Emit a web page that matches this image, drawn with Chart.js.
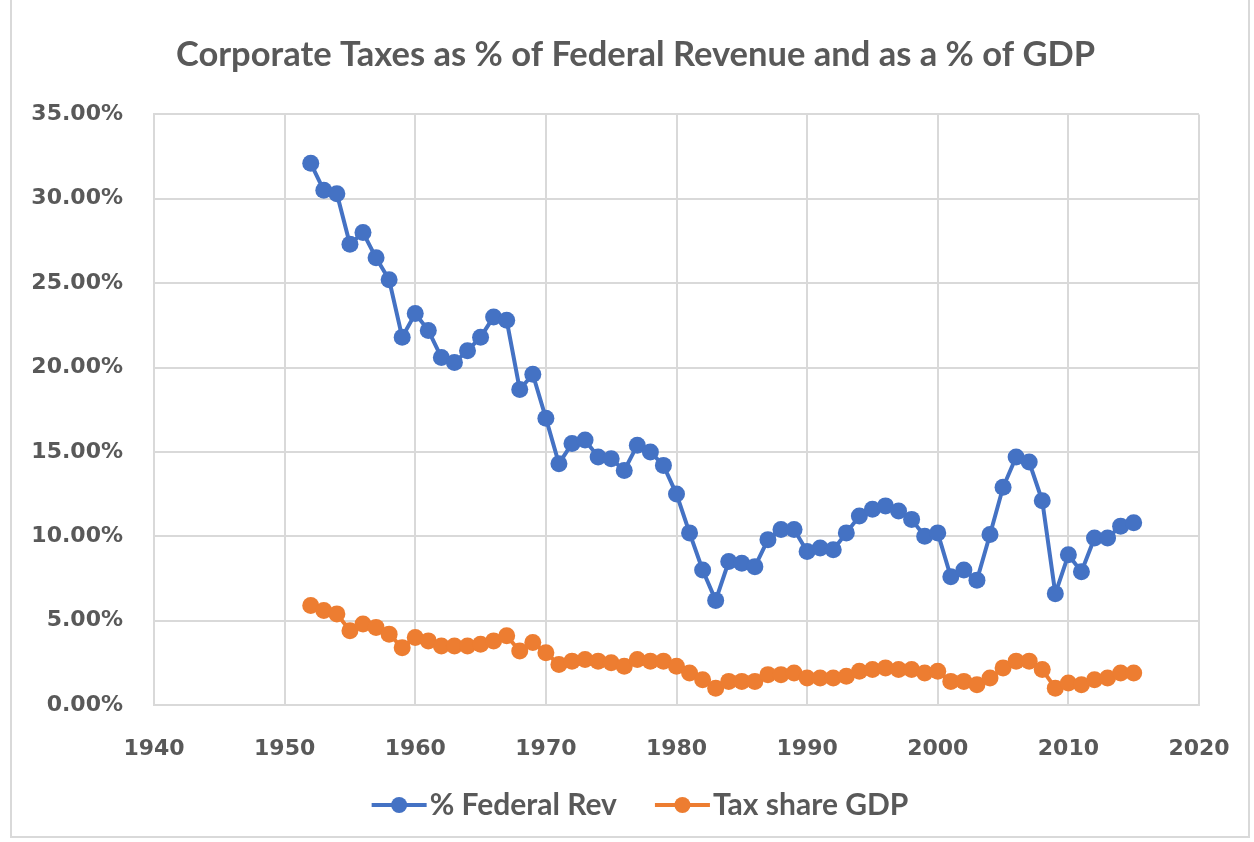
<!DOCTYPE html>
<html>
<head>
<meta charset="utf-8">
<script src="https://cdn.jsdelivr.net/npm/chart.js@4"></script>
<style>
  html, body { margin: 0; padding: 0; background: #fff; }
  #wrap { position: absolute; left: 10px; top: -2px; width: 1240px; height: 840px; border: 2px solid #d9d9d9; box-sizing: border-box; }
</style>
</head>
<body>
<div id="wrap"><canvas id="myChart"></canvas></div>
<script>
// years 1952..2015
let years = [];
for (let y = 1952; y <= 2015; y++) years.push(y);

let fedRev = [
  32.1, 30.5, 30.3, 27.3, 28.0, 26.5, 25.2, 21.8, 23.2, 22.2,
  20.6, 20.3, 21.0, 21.8, 23.0, 22.8, 18.7, 19.6, 17.0, 14.3,
  15.5, 15.7, 14.7, 14.6, 13.9, 15.4, 15.0, 14.2, 12.5, 10.2,
  8.0, 6.2, 8.5, 8.4, 8.2, 9.8, 10.4, 10.4, 9.1, 9.3,
  9.2, 10.2, 11.2, 11.6, 11.8, 11.5, 11.0, 10.0, 10.2, 7.6,
  8.0, 7.4, 10.1, 12.9, 14.7, 14.4, 12.1, 6.6, 8.9, 7.9,
  9.9, 9.9, 10.6, 10.8
];

let gdpShare = [
  5.9, 5.6, 5.4, 4.4, 4.8, 4.6, 4.2, 3.4, 4.0, 3.8,
  3.5, 3.5, 3.5, 3.6, 3.8, 4.1, 3.2, 3.7, 3.1, 2.4,
  2.6, 2.7, 2.6, 2.5, 2.3, 2.7, 2.6, 2.6, 2.3, 1.9,
  1.5, 1.0, 1.4, 1.4, 1.4, 1.8, 1.8, 1.9, 1.6, 1.6,
  1.6, 1.7, 2.0, 2.1, 2.2, 2.1, 2.1, 1.9, 2.0, 1.4,
  1.4, 1.2, 1.6, 2.2, 2.6, 2.6, 2.1, 1.0, 1.3, 1.2,
  1.5, 1.6, 1.9, 1.9
];

let seriesNames = ['% Federal Rev', 'Tax share GDP'];
let colors = ['#4472C4', '#ED7D31'];
let grey = '#595959';

let toPts = arr => arr.map((v, i) => ({ x: years[i], y: v }));

// Excel-style legend (line with a dot, then the name), centred under the chart
let excelLegend = {
  id: 'excelLegend',
  afterLayout(chart) {
    // Excel centres the title over the whole chart box
    if (chart.titleBlock) {
      chart.titleBlock.left += 19;
      chart.titleBlock.right += 19;
    }
  },
  afterDraw(chart) {
    let ctx = chart.ctx;
    let lineW = 55, gapText = 3, gapItem = 38, cy = 805, cx = 628;
    ctx.save();
    ctx.font = 'bold 30px Lato';
    ctx.textBaseline = 'middle';
    let widths = seriesNames.map(n => ctx.measureText(n).width);
    let total = widths.reduce((a, w) => a + w + lineW + gapText, 0) + gapItem * (seriesNames.length - 1);
    let x = cx - total / 2;
    seriesNames.forEach((name, i) => {
      ctx.strokeStyle = colors[i];
      ctx.lineWidth = 4;
      ctx.beginPath();
      ctx.moveTo(x, cy);
      ctx.lineTo(x + lineW, cy);
      ctx.stroke();
      ctx.fillStyle = colors[i];
      ctx.beginPath();
      ctx.arc(x + lineW / 2, cy, 8, 0, Math.PI * 2);
      ctx.fill();
      ctx.fillStyle = grey;
      ctx.fillText(name, x + lineW + gapText, cy);
      x += lineW + gapText + widths[i] + gapItem;
    });
    ctx.restore();
  }
};

let ctx = document.querySelector('#myChart').getContext('2d');
let chart = new Chart(ctx, {
  type: 'line',
  data: {
    datasets: [
      { label: seriesNames[0], data: toPts(fedRev), borderColor: colors[0], backgroundColor: colors[0] },
      { label: seriesNames[1], data: toPts(gdpShare), borderColor: colors[1], backgroundColor: colors[1] }
    ]
  },
  options: {
    responsive: true,
    maintainAspectRatio: false,
    animation: false,
    layout: { padding: { left: 0, right: 27, top: 18, bottom: 42.6 } },
    elements: {
      line: { borderWidth: 4, tension: 0 },
      point: { radius: 8.5, hoverRadius: 8.5, borderWidth: 0 }
    },
    plugins: {
      title: {
        display: true,
        text: 'Corporate Taxes as % of Federal Revenue and as a % of GDP',
        color: grey,
        font: { family: 'Lato', size: 34.5, weight: 'bold' },
        padding: { top: 16, bottom: 39 }
      },
      legend: { display: false },
      tooltip: { enabled: false }
    },
    scales: {
      x: {
        type: 'linear',
        min: 1940,
        max: 2020,
        afterFit: s => { s.paddingRight = 49; },
        ticks: {
          stepSize: 10,
          color: grey,
          padding: 31,
          font: { family: 'DejaVu Sans', size: 22, weight: 'bold' },
          callback: v => String(v)
        },
        grid: { color: '#d9d9d9', lineWidth: 2, drawTicks: false },
        border: { color: '#d9d9d9', width: 2 }
      },
      y: {
        min: 0,
        max: 35,
        afterFit: s => { s.width = 142; },
        ticks: {
          stepSize: 5,
          color: grey,
          padding: 31,
          font: { family: 'DejaVu Sans', size: 22, weight: 'bold' },
          callback: v => v.toFixed(2) + '%'
        },
        grid: { color: '#d9d9d9', lineWidth: 2, drawTicks: false },
        border: { color: '#d9d9d9', width: 2 }
      }
    }
  },
  plugins: [excelLegend]
});
</script>
</body>
</html>
